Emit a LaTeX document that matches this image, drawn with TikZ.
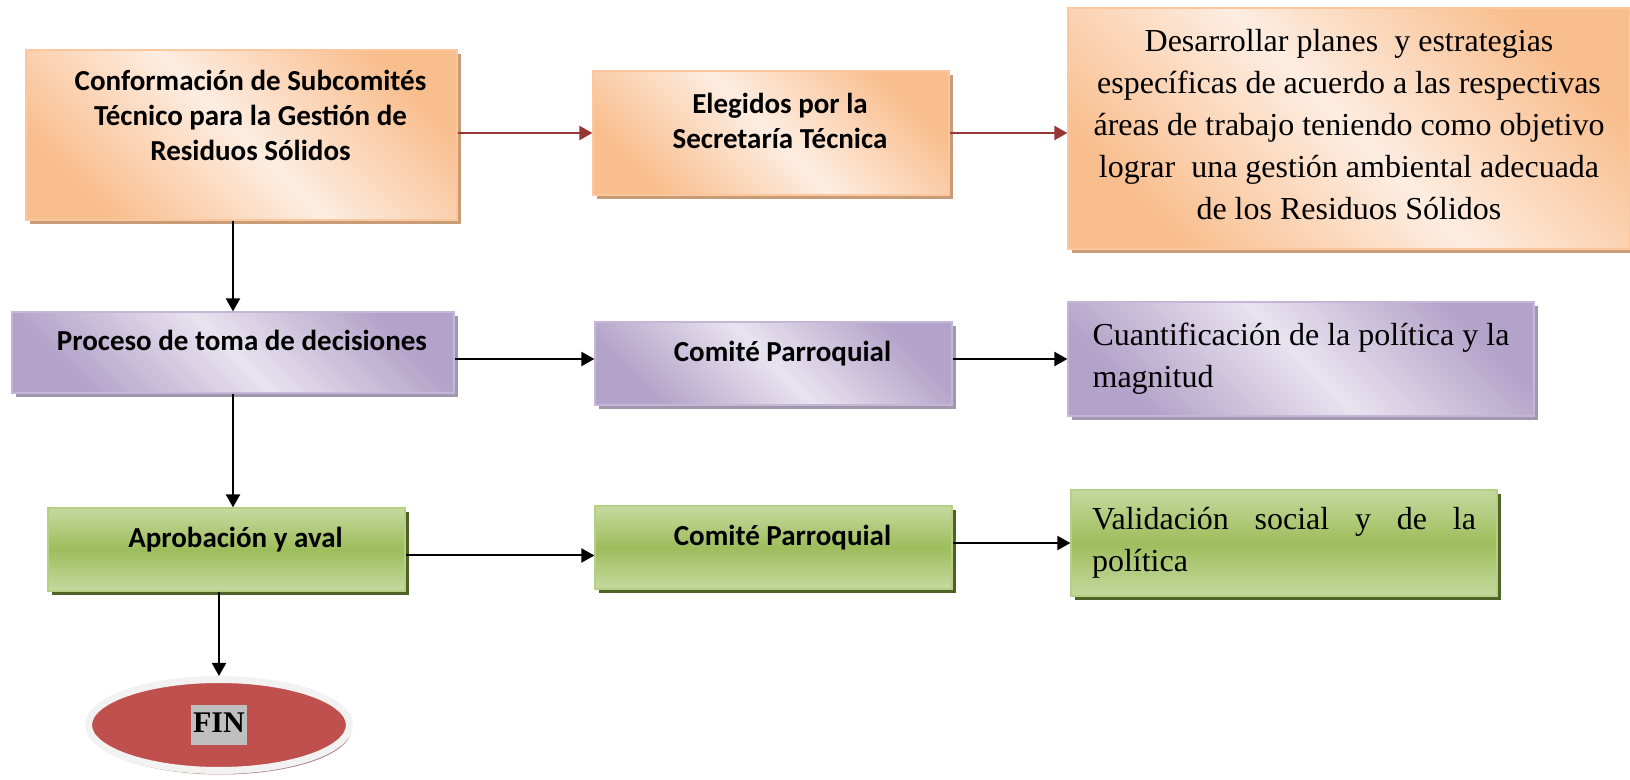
\documentclass[tikz,border=0pt]{standalone}
\usepackage{fontspec}
\setmainfont{Liberation Serif}
\newfontfamily\boxfont{Carlito}
\usetikzlibrary{shapes.geometric,shadows,arrows.meta}
\definecolor{orangeDark}{HTML}{F9BE8E}
\definecolor{orangeLight}{HTML}{FDEDE1}
\definecolor{orangeLine}{HTML}{FAC79E}
\definecolor{orangeShadow}{HTML}{C99C78}
\definecolor{purpleDark}{HTML}{B3A2C9}
\definecolor{purpleLight}{HTML}{E8E3EF}
\definecolor{purpleLine}{HTML}{C3B6D6}
\definecolor{purpleShadow}{HTML}{A298AE}
\definecolor{greenDark}{HTML}{9EBD5C}
\definecolor{greenLight}{HTML}{C6D99F}
\definecolor{greenLine}{HTML}{B5CF85}
\definecolor{greenShadow}{HTML}{4F6228}
\definecolor{arrowRed}{HTML}{953735}
\definecolor{finRed}{HTML}{C0504D}
\definecolor{finRing}{HTML}{F2F2F2}
\definecolor{finShadow}{HTML}{AC7F7E}
\definecolor{finHi}{HTML}{BFBFBF}
\tikzset{
	plainbox/.style={rectangle, inner sep=0pt, line width=0.6pt},
	orangebox/.style={plainbox, draw=orangeLine,
		top color=orangeDark, bottom color=orangeDark, middle color=orangeLight, shading angle=-45,
		drop shadow={shadow xshift=2pt, shadow yshift=-2pt, fill=orangeShadow, opacity=1}},
	purplebox/.style={plainbox, draw=purpleLine,
		top color=purpleDark, bottom color=purpleDark, middle color=purpleLight, shading angle=-45,
		drop shadow={shadow xshift=2pt, shadow yshift=-2pt, fill=purpleShadow, opacity=1}},
	greenbox/.style={plainbox, draw=greenLine,
		top color=greenLight, bottom color=greenLight, middle color=greenDark,
		drop shadow={shadow xshift=2pt, shadow yshift=-2pt, fill=greenShadow, opacity=1}},
	boldtext/.style={font=\boxfont\bfseries\fontsize{14.5}{17.5}\selectfont},
	lifted/.style={text height=10.5pt, text depth=12pt, execute at begin node=\hspace*{9pt}},
	seriftext/.style={font=\fontsize{16}{21}\selectfont},
	flowarrow/.style={-{Triangle[length=6.5pt,width=7pt]}, line width=1pt, black},
	redarrow/.style={flowarrow, draw=arrowRed, fill=arrowRed},
	finnode/.style={ellipse, draw=finRing, fill=finRed, line width=3.5pt, inner sep=0pt,
		minimum width=130.5pt, minimum height=45.5pt,
		drop shadow={shadow xshift=1pt, shadow yshift=-2pt, fill=finShadow, opacity=1},
		font=\bfseries\fontsize{15}{18}\selectfont}
}

\begin{document}
\begin{tikzpicture}[x=0.5pt, y=-0.5pt]
	\useasboundingbox (0,0) rectangle (1630,780);

	\node[orangebox, boldtext, align=center, minimum width=215.5pt, minimum height=85pt, text depth=20pt]
		(subcomites) at (241.5,135) {\hspace*{9pt}Conformación de Subcomités\\\hspace*{9pt}Técnico para la Gestión de\\\hspace*{9pt}Residuos Sólidos};
	\node[orangebox, boldtext, align=center, minimum width=178pt, minimum height=62pt, text depth=12pt]
		(secretaria) at (771,133) {\hspace*{9pt}Elegidos por la\\\hspace*{9pt}Secretaría Técnica};
	\node[orangebox, seriftext, align=center, minimum width=281pt, minimum height=120.5pt, text depth=4pt]
		(planes) at (1349,128.5) {Desarrollar planes~ y estrategias\\específicas de acuerdo a las respectivas\\áreas de trabajo teniendo como objetivo\\lograr~ una gestión ambiental adecuada\\de los Residuos Sólidos};

	\node[purplebox, boldtext, lifted, minimum width=221pt, minimum height=40.5pt]
		(decisiones) at (233,352.5) {Proceso de toma de decisiones};
	\node[purplebox, boldtext, lifted, minimum width=178.5pt, minimum height=41.5pt]
		(comite1) at (773.5,363.5) {Comité Parroquial};
	\node[purplebox, seriftext, align=left, minimum width=233pt, minimum height=57pt]
		(cuantificacion) at (1301,359) {Cuantificación de la política y la\\magnitud};

	\node[greenbox, boldtext, lifted, minimum width=178.5pt, minimum height=41.5pt]
		(aprobacion) at (226.5,549.5) {Aprobación y aval};
	\node[greenbox, boldtext, lifted, minimum width=178.5pt, minimum height=41.5pt]
		(comite2) at (773.5,547.5) {Comité Parroquial};
	\node[greenbox, seriftext, text width=192pt, align=left, minimum width=213pt, minimum height=53pt]
		(validacion) at (1284,543) {Validación\hfill social\hfill y\hfill de\hfill la\\política};

	\node[finnode] (fin) at (219,725) {\setlength{\fboxsep}{1pt}\colorbox{finHi}{\strut FIN}};

	\draw[redarrow] (subcomites.east |- secretaria.west) to (secretaria.west);
	\draw[redarrow] (secretaria.east) to (secretaria.east -| planes.west);

	\draw[flowarrow] (subcomites.south -| decisiones.north) to (decisiones.north);
	\draw[flowarrow] (decisiones.east |- cuantificacion.west) to (comite1.west |- cuantificacion.west);
	\draw[flowarrow] (comite1.east |- cuantificacion.west) to (cuantificacion.west);

	\draw[flowarrow] (decisiones.south) to (decisiones.south |- aprobacion.north);
	\draw[flowarrow] ([yshift=-3pt]aprobacion.east) to ([yshift=-3pt]aprobacion.east -| comite2.west);
	\draw[flowarrow] (comite2.east |- validacion.west) to (validacion.west);

	\draw[flowarrow] (aprobacion.south -| fin.north) to (fin.north);
\end{tikzpicture}
\end{document}
